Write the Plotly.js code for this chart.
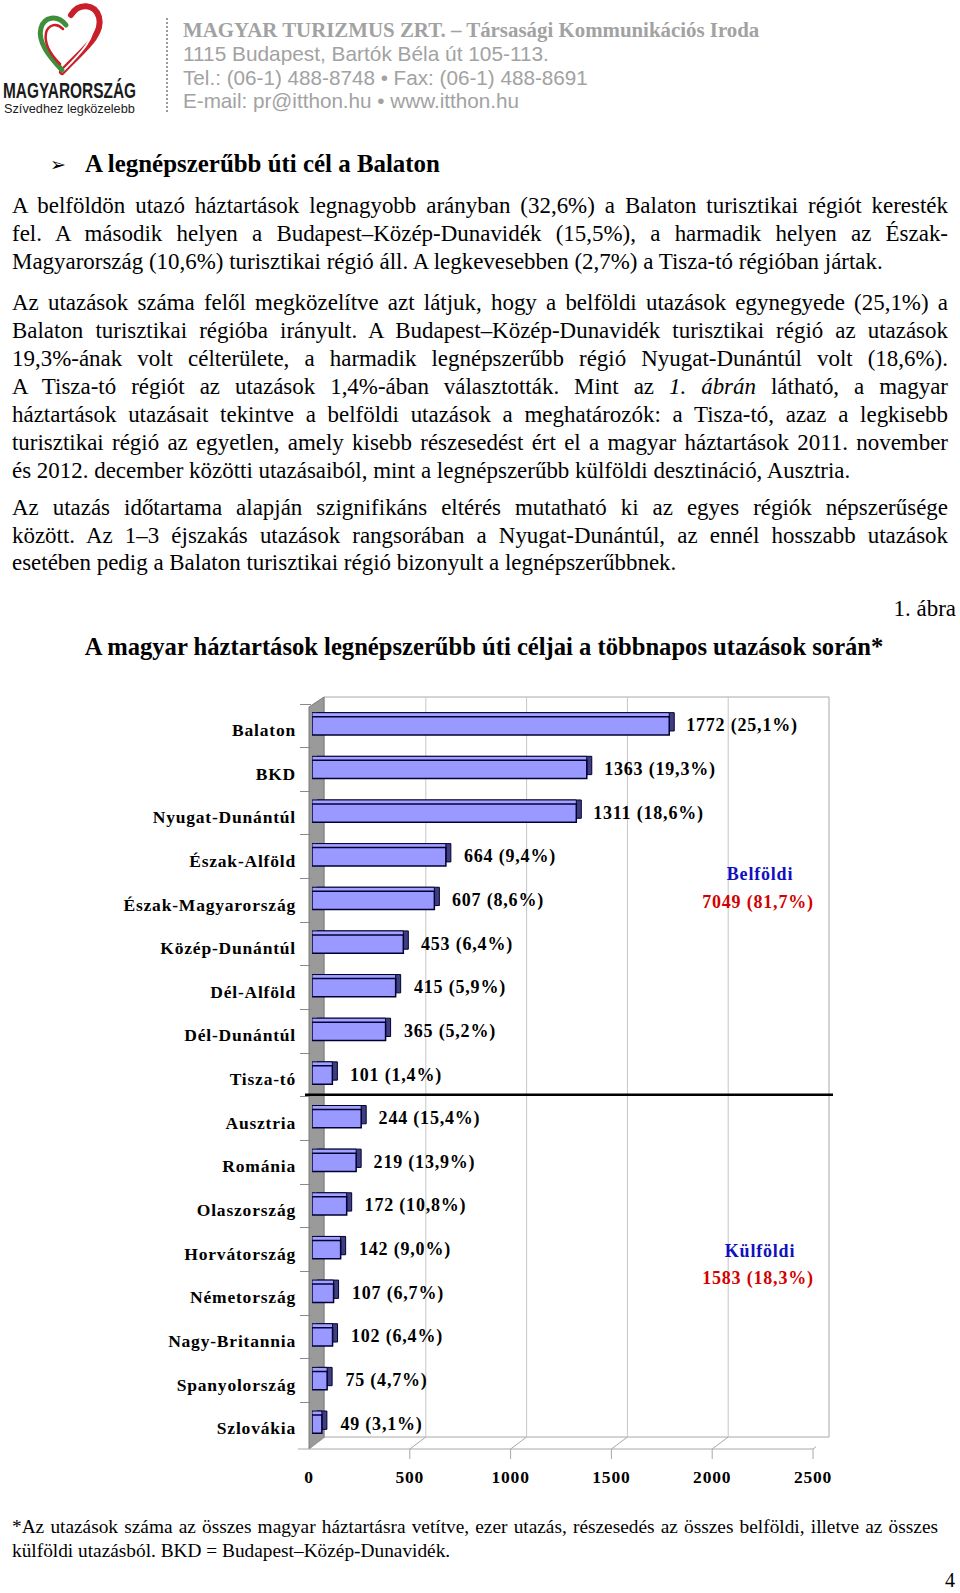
<!DOCTYPE html>
<html><head><meta charset="utf-8">
<script src="https://cdn.plot.ly/plotly-3.0.1.min.js"></script>
<style>
html,body{margin:0;padding:0;background:#fff;}
#page{position:relative;width:960px;height:1593px;overflow:hidden;font-family:"Liberation Serif",serif;color:#000;}
.t{position:absolute;white-space:nowrap;line-height:1;top:0;}
.j{position:absolute;text-align:justify;text-align-last:justify;line-height:1;top:0;}
#chart{position:absolute;left:0;top:0;width:960px;height:1593px;}
#chart .annotation-text, #chart .ytick text, #chart .xtick text{letter-spacing:0.8px;}
</style></head>
<body><div id="page">
<svg style="position:absolute;left:0;top:0" width="140" height="80">
  <path d="M62,72 C80,52 104,36 99,17 C95,4 79,2 71,15" fill="none" stroke="#c8202a" stroke-width="6" stroke-linecap="round"/>
  <path d="M62,72 C79,55 97,38 93,20 C90,10 80,9 74,18" fill="none" stroke="#ffffff" stroke-width="2"/>
  <path d="M62,70 C50,57 37,42 41,28 C44,17 57,14 66,25" fill="none" stroke="#3f8f3a" stroke-width="5" stroke-linecap="round"/>
  <path d="M60,64 C51,55 44,44 46,33 C48,25 56,22 63,29" fill="none" stroke="#c8202a" stroke-width="2.5" stroke-linecap="round"/>
</svg>
<div id="sep" style="position:absolute;left:166px;top:18px;height:94px;border-left:2px dotted #9a9a9a;"></div>
<div id="chart"></div>
</div>
<script>
// ---------------- data ----------------
const domesticRegions = ['Balaton','BKD','Nyugat-Dunántúl','Észak-Alföld','Észak-Magyarország','Közép-Dunántúl','Dél-Alföld','Dél-Dunántúl','Tisza-tó'];
const domesticTrips = [1772,1363,1311,664,607,453,415,365,101];
const domesticShare = [25.1,19.3,18.6,9.4,8.6,6.4,5.9,5.2,1.4];
const foreignCountries = ['Ausztria','Románia','Olaszország','Horvátország','Németország','Nagy-Britannia','Spanyolország','Szlovákia'];
const foreignTrips = [244,219,172,142,107,102,75,49];
const foreignShare = [15.4,13.9,10.8,9.0,6.7,6.4,4.7,3.1];
const xTickVals = [0,500,1000,1500,2000,2500];
const groupNames = ['Belföldi','Külföldi'];
const groupTotals = [7049,1583];
const groupShares = [81.7,18.3];

// ---------------- page text ----------------
const page = document.getElementById('page');
function baselineOf(el){
  const m=document.createElement('span');
  m.style.cssText='display:inline-block;width:0;height:0;vertical-align:baseline;';
  el.appendChild(m);
  const b=m.getBoundingClientRect().bottom;
  el.removeChild(m);
  return b;
}
function put(html,o){
  const el=document.createElement('div');
  el.className=o.justify?'j':'t';
  el.innerHTML=html;
  el.style.fontFamily=o.family||'"Liberation Serif", serif';
  el.style.fontSize=(o.size||19)+'px';
  if(o.bold) el.style.fontWeight='bold';
  if(o.color) el.style.color=o.color;
  if(o.ls) el.style.letterSpacing=o.ls+'px';
  page.appendChild(el);
  if(o.justify){ el.style.left=o.left+'px'; el.style.width=o.width+'px'; }
  else {
    if(o.squeeze){
      const w=el.getBoundingClientRect().width;
      el.style.transformOrigin='0 0';
      el.style.transform='scaleX('+(o.squeeze/w)+')';
    } else if(o.fit){
      const w=el.getBoundingClientRect().width;
      el.style.fontSize=((o.size||19)*o.fit/w)+'px';
    }
    const w=el.getBoundingClientRect().width;
    if(o.right!==undefined) el.style.left=(o.right-w)+'px';
    else if(o.center!==undefined) el.style.left=(o.center-w/2)+'px';
    else el.style.left=o.left+'px';
  }
  const b=baselineOf(el);
  el.style.top=(o.base-b)+'px';
  return el;
}
function measure(html,o){
  const el=document.createElement('div');
  el.className='t';el.innerHTML=html;
  el.style.fontFamily=o.family||'"Liberation Serif", serif';
  el.style.fontSize='20px';
  page.appendChild(el);
  const w=el.getBoundingClientRect().width;
  page.removeChild(el);
  return 20*o.fit/w;
}

const grey='#a2a2a2';
put('MAGYAR TURIZMUS ZRT. – Társasági Kommunikációs Iroda',{left:183,base:37,bold:true,color:grey,size:20,fit:577});
put('1115 Budapest, Bartók Béla út 105-113.',{left:183,base:61,family:'"Liberation Sans", Arial, sans-serif',color:grey,size:19,fit:366});
put('Tel.: (06-1) 488-8748 • Fax: (06-1) 488-8691',{left:183,base:85,family:'"Liberation Sans", Arial, sans-serif',color:grey,size:19,fit:405});
put('E-mail: pr@itthon.hu • www.itthon.hu',{left:183,base:108,family:'"Liberation Sans", Arial, sans-serif',color:grey,size:19,fit:336});
put('MAGYARORSZÁG',{left:3,base:98,bold:true,family:'"Liberation Sans", Arial, sans-serif',color:'#1b1b1b',size:22,squeeze:133});
put('Szívedhez legközelebb',{left:4,base:113,family:'"Liberation Sans", sans-serif',color:'#1b1b1b',size:12,fit:131});

put('➢',{left:50,base:171,family:'"DejaVu Sans", sans-serif',size:19});
put('A legnépszerűbb úti cél a Balaton',{left:85,base:172,bold:true,size:24,fit:355});

const para1=[
 ['A belföldön utazó háztartások legnagyobb arányban (32,6%) a Balaton turisztikai régiót keresték',1],
 ['fel. A második helyen a Budapest–Közép-Dunavidék (15,5%), a harmadik helyen az Észak-',1],
 ['Magyarország (10,6%) turisztikai régió áll. A legkevesebben (2,7%) a Tisza-tó régióban jártak.',0]];
const para2=[
 ['Az utazások száma felől megközelítve azt látjuk, hogy a belföldi utazások egynegyede (25,1%) a',1],
 ['Balaton turisztikai régióba irányult. A Budapest–Közép-Dunavidék turisztikai régió az utazások',1],
 ['19,3%-ának volt célterülete, a harmadik legnépszerűbb régió Nyugat-Dunántúl volt (18,6%).',1],
 ['A Tisza-tó régiót az utazások 1,4%-ában választották. Mint az <i>1. ábrán</i> látható, a magyar',1],
 ['háztartások utazásait tekintve a belföldi utazások a meghatározók: a Tisza-tó, azaz a legkisebb',1],
 ['turisztikai régió az egyetlen, amely kisebb részesedést ért el a magyar háztartások 2011. november',1],
 ['és 2012. december közötti utazásaiból, mint a legnépszerűbb külföldi desztináció, Ausztria.',0]];
const para3=[
 ['Az utazás időtartama alapján szignifikáns eltérés mutatható ki az egyes régiók népszerűsége',1],
 ['között. Az 1–3 éjszakás utazások rangsorában a Nyugat-Dunántúl, az ennél hosszabb utazások',1],
 ['esetében pedig a Balaton turisztikai régió bizonyult a legnépszerűbbnek.',0]];

const bodySize=(measure(para1[2][0],{fit:799})+measure(para2[6][0],{fit:875})+measure(para3[2][0],{fit:691}))/3;
function para(lines,base0,step){
  lines.forEach((l,i)=>{
    if(l[1]) put(l[0],{justify:true,left:12,width:936,base:base0+i*step,size:bodySize});
    else put(l[0],{left:12,base:base0+i*step,size:bodySize});
  });
}
para(para1,212.5,28);
para(para2,310,28);
para(para3,515,27.5);
put('1. ábra',{right:956,base:616,size:bodySize});
put('A magyar háztartások legnépszerűbb úti céljai a többnapos utazások során*',{center:484,base:655,bold:true,size:20,fit:799});

const foot1='*Az utazások száma az összes magyar háztartásra vetítve, ezer utazás, részesedés az összes belföldi, illetve az összes';
const foot2='külföldi utazásból. BKD = Budapest–Közép-Dunavidék.';
const footSize=Math.min(measure(foot2,{fit:458}),measure(foot1,{fit:905}));
put(foot1,{justify:true,left:12,width:926,base:1533,size:footSize});
put(foot2,{left:12,base:1557,size:footSize});
put('4',{right:955,base:1587,size:20});

// ---------------- chart ----------------
const categories=domesticRegions.concat(foreignCountries);
const trips=domesticTrips.concat(foreignTrips);
const shares=domesticShare.concat(foreignShare);
const fmt=v=>v.toFixed(1).replace('.',',');

const L=312,R=816,T=704,B=1446,W=R-L,H=B-T;
const xMax=xTickVals[xTickVals.length-1];
const xp=px=>(px-L)/W, yp=py=>(B-py)/H;
const band=H/categories.length;
const barW=18.3/band;           // front face thickness in category units
const depthY=4/band;            // top face depth
const depthX=5*xMax/W;          // side face depth in data units

const common={type:'bar',orientation:'h',y:categories,x:trips,width:barW,hoverinfo:'skip',showlegend:false};
const traces=[
  Object.assign({},common,{base:depthX,offset:-barW/2-depthY,marker:{color:'#3f3f80',line:{color:'#000033',width:1}}}),
  Object.assign({},common,{base:0,offset:-barW/2-depthY,marker:{color:'#a3a3ff',line:{color:'#000033',width:1}}}),
  Object.assign({},common,{base:0,offset:-barW/2,marker:{color:'#9999ff',line:{color:'#000033',width:1.5}}})
];

const shapes=[];
// back wall
shapes.push({type:'rect',xref:'paper',yref:'paper',x0:xp(324),x1:xp(829),y0:yp(1437),y1:yp(697),line:{color:'#a8a8a8',width:1},fillcolor:'#ffffff',layer:'below'});
// grey side wall
shapes.push({type:'path',xref:'paper',yref:'paper',path:`M${xp(309)},${yp(707)} L${xp(324)},${yp(697)} L${xp(324)},${yp(1437)} L${xp(309)},${yp(1449)} Z`,fillcolor:'#9a9a9a',line:{color:'#7c7c7c',width:1},layer:'below'});
xTickVals.forEach(v=>{
  if(v>0&&v<xMax) shapes.push({type:'line',xref:'x',xsizemode:'pixel',xanchor:v,x0:13,x1:13,yref:'paper',y0:yp(1437),y1:yp(697),line:{color:'#c6c6c6',width:1},layer:'below'});
  shapes.push({type:'line',xref:'x',xsizemode:'pixel',xanchor:v,x0:-3,x1:13,yref:'paper',y0:yp(1449),y1:yp(1437),line:{color:'#a8a8a8',width:1},layer:'below'});
  shapes.push({type:'line',xref:'x',xsizemode:'pixel',xanchor:v,x0:-3,x1:-3,yref:'paper',y0:yp(1449),y1:yp(1459),line:{color:'#a8a8a8',width:1},layer:'below'});
});
shapes.push({type:'line',xref:'paper',yref:'paper',x0:xp(298),x1:xp(813),y0:yp(1449),y1:yp(1449),line:{color:'#a8a8a8',width:1},layer:'below'});
// separator between domestic and foreign (2px above the band boundary)
const sepY=T+domesticRegions.length*band-2;
shapes.push({type:'line',xref:'paper',yref:'paper',x0:xp(305),x1:xp(833),y0:yp(sepY),y1:yp(sepY),line:{color:'#000000',width:2.5},layer:'above'});

const lblFont={family:'Liberation Serif',size:18,color:'#000',weight:'bold'};
const annotations=categories.map((c,i)=>({x:trips[i],y:c,xref:'x',yref:'y',xanchor:'left',yanchor:'middle',xshift:20,showarrow:false,
  text:`${trips[i]} (${fmt(shares[i])}%)`,font:lblFont}));
const groupPos=[[874,902],[1250.5,1278]];
groupNames.forEach((g,k)=>{
  annotations.push({xref:'paper',yref:'paper',x:xp(760),y:yp(groupPos[k][0]),xanchor:'center',yanchor:'middle',showarrow:false,text:g,font:Object.assign({},lblFont,{color:'#1010c0'})});
  annotations.push({xref:'paper',yref:'paper',x:xp(758),y:yp(groupPos[k][1]),xanchor:'center',yanchor:'middle',showarrow:false,text:`${groupTotals[k]} (${fmt(groupShares[k])}%)`,font:Object.assign({},lblFont,{color:'#d40000'})});
});

const layout={
  width:960,height:1593,margin:{l:L,r:960-R,t:T,b:1593-B,pad:0},
  paper_bgcolor:'rgba(0,0,0,0)',plot_bgcolor:'rgba(0,0,0,0)',
  barmode:'overlay',showlegend:false,
  xaxis:{range:[0,xMax],tickvals:xTickVals,ticktext:xTickVals.map(String),ticks:'',showgrid:false,zeroline:false,showline:false,
    tickfont:{family:'Liberation Serif',size:17.5,color:'#000',weight:'bold'},ticklabelshift:-3,ticklabelstandoff:18,fixedrange:true,automargin:false},
  yaxis:{type:'category',categoryarray:categories,categoryorder:'array',range:[categories.length-0.5,-0.5],
    ticks:'outside',tickson:'boundaries',ticklen:11,tickcolor:'#8a8a8a',tickwidth:1,showgrid:false,zeroline:false,showline:false,
    tickfont:{family:'Liberation Serif',size:17.5,color:'#000',weight:'bold'},ticklabelstandoff:15,ticklabelshift:-4,fixedrange:true,automargin:false},
  shapes:shapes,annotations:annotations
};
Plotly.newPlot('chart',traces,layout,{staticPlot:true,displayModeBar:false});
</script>
</body></html>
